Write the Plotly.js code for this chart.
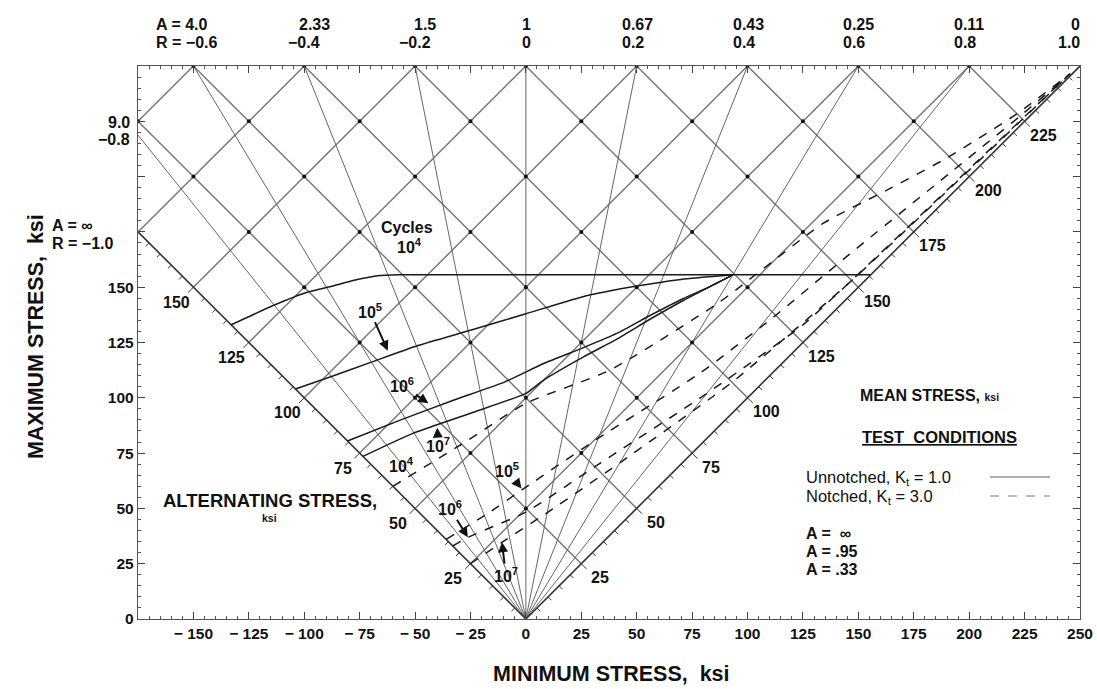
<!DOCTYPE html>
<html><head><meta charset="utf-8">
<script src="https://cdn.plot.ly/plotly-3.0.1.min.js"></script>
<style>html,body{margin:0;padding:0;background:#fff;}#chart{width:1097px;height:689px;}</style>
</head><body><div id="chart"></div>
<script>
// ---------- axes / scales ----------
const xMin = -175, xMax = 250, yMax = 250;
const xTickVals = [-150,-125,-100,-75,-50,-25,0,25,50,75,100,125,150,175,200,225,250];
const xTickText = ['− 150','− 125','− 100','− 75','− 50','− 25','0','25','50','75','100','125','150','175','200','225','250'];
const yTickVals = [0,25,50,75,100,125,150,175,200,225,250];
const yTickText = ['0','25','50','75','100','125','150','','','',''];

// ---------- constant-R rays ----------
const rLines = [-0.8,-0.6,-0.4,-0.2,0,0.2,0.4,0.6,0.8];
const topR = [-0.6,-0.4,-0.2,0,0.2,0.4,0.6,0.8,1.0];
const topAText = ['A = 4.0','2.33','1.5','1','0.67','0.43','0.25','0.11','0'];
const topRText = ['R = −0.6','−0.4','−0.2','0','0.2','0.4','0.6','0.8','1.0'];

// ---------- mean / alternating stress grid ----------
const meanGrid = [25,50,75,100,125,150,175,200,225];
const altGrid = [25,50,75,100,125,150,175,200];
const meanLabels = [25,50,75,100,125,150,175,200,225];
const altLabels = [25,50,75,100,125,150];

// ---------- constant-life curves (min stress, max stress), ksi ----------
// Unnotched, Kt = 1.0
const u1e4Min = [-133,-114,-99,-88,-78,-67,-57,-40,155.6];
const u1e4Max = [133,141.7,147.6,150.3,153,155.2,155.6,155.6,155.6];
const u1e5Min = [-104,-88,-70,-49,-25,0,25,50,70,93];
const u1e5Max = [104,109.5,116,123.5,130.5,138,145.5,150.5,153.5,155.6];
const u1e6Min = [-80.5,-57,-33,-10,8,26,41,56,71,82,93.4];
const u1e6Max = [80.5,89.8,98.8,107,115.5,122.7,129.1,137.2,144.9,149.8,155.6];
const u1e7Min = [-73.5,-51,-25,0,8,26,41,56,71,93.4];
const u1e7Max = [73.5,83.9,93,102,108,118.5,126.5,135.5,144,155.6];
// Notched, Kt = 3.0
const n1e4Min = [-60,-29,0,37.9,87,134,165,189.7,221.6,245.5];
const n1e4Max = [60,79,97.5,112.5,143,178.8,195,208.3,228.4,246.5];
const n1e5Min = [-36,-17.5,0,33.4,78.5,111.6,145.5,193,222.8,245.5];
const n1e5Max = [36,47.5,59.6,82.2,111.1,136.4,164.5,203,227.2,246.5];
const n1e6Min = [-33,-26,0,33.4,79.5,125,167.5,208.5,245.5];
const n1e6Max = [33,37,48.3,70.4,100.5,133,172.5,211.5,246.5];
const n1e7Min = [-25,-10.7,11,46.5,93,147,198.5,245.5];
const n1e7Max = [25,34.7,49,73.5,107,153,201.5,246.5];

// ---------- build traces ----------
function addSeg(t, x0, y0, x1, y1){ t.x.push(x0, x1, null); t.y.push(y0, y1, null); }

const gridT = {x:[], y:[], mode:'lines', line:{color:'#747474', width:1.4}, hoverinfo:'skip', showlegend:false};
meanGrid.forEach(m => {            // constant mean stress: max+min = 2m
  let x1 = 2*m - yMax, y1 = yMax;
  if (x1 < xMin){ x1 = xMin; y1 = 2*m - xMin; }
  addSeg(gridT, m, m, x1, y1);
});
altGrid.forEach(a => {             // constant alternating stress: max-min = 2a
  let x0 = -a, y0 = a;
  if (x0 < xMin){ x0 = xMin; y0 = 2*a + xMin; }
  addSeg(gridT, x0, y0, yMax - 2*a, yMax);
});

// grid vertices (dark dots where mean and alternating lines cross)
const dotT = {x:[], y:[], mode:'markers', marker:{color:'#111', size:4}, hoverinfo:'skip', showlegend:false};
meanGrid.forEach(m => altGrid.forEach(a => {
  const xm = m - a, ym = m + a;
  if (xm >= xMin && ym <= yMax){ dotT.x.push(xm); dotT.y.push(ym); }
}));

const rayT = {x:[], y:[], mode:'lines', line:{color:'#666', width:1}, hoverinfo:'skip', showlegend:false};
rLines.forEach(r => {
  let x1 = r*yMax, y1 = yMax;
  if (x1 < xMin){ x1 = xMin; y1 = xMin / r; }
  addSeg(rayT, 0, 0, x1, y1);
});

const axesT = {x:[], y:[], mode:'lines', line:{color:'#333', width:1.6}, hoverinfo:'skip', showlegend:false};
addSeg(axesT, 0, 0, yMax, yMax);          // R = 1.0  (mean stress axis)
addSeg(axesT, 0, 0, xMin, -xMin);         // R = -1.0 (alternating stress axis)

const tickT = {x:[], y:[], mode:'lines', line:{color:'#333', width:1}, hoverinfo:'skip', showlegend:false};
for (let v = 5; v < yMax; v += 5){
  const d = (v % 25 === 0) ? 2.4 : 1.5;
  addSeg(tickT, v, v, v + d, v - d);
}
for (let v = 5; v < -xMin; v += 5){
  const d = (v % 25 === 0) ? 2.4 : 1.5;
  addSeg(tickT, -v, v, -v - d, v - d);
}

const curveLine = {color:'#1a1a1a', width:1.5};
function curve(xs, ys, dash){
  return {x:xs, y:ys, mode:'lines', line:Object.assign({}, curveLine, {dash:dash, shape:'spline', smoothing:0.5}), hoverinfo:'skip', showlegend:false};
}
const traces = [gridT, rayT, axesT, tickT, dotT,
  curve(u1e4Min, u1e4Max, 'solid'), curve(u1e5Min, u1e5Max, 'solid'),
  curve(u1e6Min, u1e6Max, 'solid'), curve(u1e7Min, u1e7Max, 'solid'),
  curve(n1e4Min, n1e4Max, 'dash'), curve(n1e5Min, n1e5Max, 'dash'),
  curve(n1e6Min, n1e6Max, 'dash'), curve(n1e7Min, n1e7Max, 'dash')];

// ---------- annotations ----------
const FONT = 'Liberation Sans, Arial, sans-serif';
const f = (size, weight) => ({family:FONT, size:size, color:'#111', weight:weight === undefined ? 700 : weight});
const lab = (o) => Object.assign({showarrow:false, font:f(16)}, o);
const ann = [];
topR.forEach((r, i) => {
  const base = {x:r*yMax, y:1, xref:'x', yref:'paper', yanchor:'middle'};
  let a, b;
  if (i === 0){ a = {xanchor:'left', xshift:-39}; b = {xanchor:'left', xshift:-39}; }
  else if (i === topR.length - 1){ a = {xanchor:'right', xshift:2}; b = {xanchor:'right', xshift:2}; }
  else if (r < 0){ a = {xanchor:'center', xshift:10}; b = {xanchor:'center', xshift:0}; }
  else if (r === 0){ a = {xanchor:'center', xshift:1}; b = {xanchor:'center', xshift:1}; }
  else { a = {xanchor:'left', xshift:-17}; b = {xanchor:'left', xshift:-17}; }
  ann.push(lab(Object.assign({}, base, a, {text:topAText[i], yshift:42})));
  ann.push(lab(Object.assign({}, base, b, {text:topRText[i], yshift:24})));
});
// left-edge R labels
ann.push(lab({x:0, xref:'paper', y:xMin/-0.8, yref:'y', text:'9.0', xanchor:'right', xshift:-6, yshift:13}));
ann.push(lab({x:0, xref:'paper', y:xMin/-0.8, yref:'y', text:'−0.8', xanchor:'right', xshift:-6, yshift:-4}));
ann.push(lab({x:-0.093, xref:'paper', y:-xMin, yref:'y', text:'A = ∞', xanchor:'left', yshift:6}));
ann.push(lab({x:-0.093, xref:'paper', y:-xMin, yref:'y', text:'R = −1.0', xanchor:'left', yshift:-12}));
// mean & alternating axis labels
meanLabels.forEach(m => ann.push(lab({x:m, y:m, text:String(m), xshift:19, yshift:-14})));
altLabels.forEach(a => ann.push(lab({x:-a, y:a, text:String(a), xshift:-17, yshift:-15})));
// cycle labels
ann.push(lab({x:-53.7, y:176.9, text:'Cycles'}));
ann.push(lab({x:-52.3, y:168.8, text:'10<sup>4</sup>'}));
const arrowLab = (o) => lab(Object.assign({showarrow:true, arrowhead:2, arrowsize:1, arrowwidth:2, arrowcolor:'#111'}, o));
ann.push(arrowLab({x:-62.3, y:121.3, text:'10<sup>5</sup>', ax:-18, ay:-40}));
ann.push(arrowLab({x:-44, y:97.5, text:'10<sup>6</sup>', ax:-26, ay:-18}));
ann.push(arrowLab({x:-40, y:86.5, text:'10<sup>7</sup>', ax:1, ay:17}));
ann.push(lab({x:-56, y:69.5, text:'10<sup>4</sup>'}));
ann.push(arrowLab({x:-2, y:59, text:'10<sup>5</sup>', ax:-14, ay:-18}));
ann.push(arrowLab({x:-26.2, y:37, text:'10<sup>6</sup>', ax:-18, ay:-29}));
ann.push(arrowLab({x:-10.8, y:34.7, text:'10<sup>7</sup>', ax:4, ay:33}));
// text blocks
ann.push(lab({x:-115.5, y:53.7, text:'ALTERNATING STRESS,', font:f(18.5)}));
ann.push(lab({x:-115.5, y:45.6, text:'ksi', font:f(10.5)}));
ann.push(lab({x:149.8, y:101, xanchor:'left', text:'MEAN STRESS, <span style="font-size:10.5px">ksi</span>', font:f(16)}));
ann.push(lab({x:150.7, y:82.1, xanchor:'left', text:'<u>TEST  CONDITIONS</u>', font:f(16.5)}));
ann.push(lab({x:125.5, y:63.8, xanchor:'left', text:'Unnotched, K<sub>t</sub> = 1.0', font:f(16.5, 400)}));
ann.push(lab({x:125.5, y:55.2, xanchor:'left', text:'Notched, K<sub>t</sub> = 3.0', font:f(16.5, 400)}));
ann.push(lab({x:125.5, y:38.8, xanchor:'left', text:'A =  ∞'}));
ann.push(lab({x:125.5, y:30.7, xanchor:'left', text:'A = .95'}));
ann.push(lab({x:125.5, y:22.6, xanchor:'left', text:'A = .33'}));
// axis titles
ann.push({x:-0.123, xref:'paper', y:0.51, yref:'paper', text:'MAXIMUM STRESS,  ksi', textangle:-90, showarrow:false, font:f(21.5)});
ann.push({x:0.503, xref:'paper', y:0, yref:'paper', yanchor:'middle', yshift:-55, text:'MINIMUM STRESS,  ksi', showarrow:false, font:f(21.5)});

const shapes = [
  {type:'line', xref:'x', yref:'y', x0:209.4, x1:236.5, y0:64.2, y1:64.2, line:{color:'#666', width:1}},
  {type:'line', xref:'x', yref:'y', x0:209.4, x1:236.5, y0:55.6, y1:55.6, line:{color:'#777', width:1, dash:'dash'}}
];

const axisFont = f(15.5);
const layout = {
  width:1097, height:689,
  margin:{l:138, r:17, t:66, b:70},
  paper_bgcolor:'#fff', plot_bgcolor:'#fff',
  showlegend:false,
  xaxis:{range:[xMin, xMax], tickvals:xTickVals, ticktext:xTickText, ticks:'inside', ticklen:7, tickcolor:'#444',
         minor:{dtick:5, ticks:'inside', ticklen:3, tickcolor:'#555'}, showgrid:false, zeroline:false,
         showline:true, linecolor:'#555', linewidth:1.2, mirror:'ticks', tickfont:axisFont, fixedrange:true},
  yaxis:{range:[0, yMax], tickvals:yTickVals, ticktext:yTickText, ticks:'inside', ticklen:7, tickcolor:'#444',
         minor:{dtick:5, ticks:'inside', ticklen:3, tickcolor:'#555'}, showgrid:false, zeroline:false,
         showline:true, linecolor:'#555', linewidth:1.2, mirror:'ticks', tickfont:axisFont, fixedrange:true},
  annotations:ann, shapes:shapes
};
Plotly.newPlot('chart', traces, layout, {displayModeBar:false, staticPlot:true});
</script></body></html>
